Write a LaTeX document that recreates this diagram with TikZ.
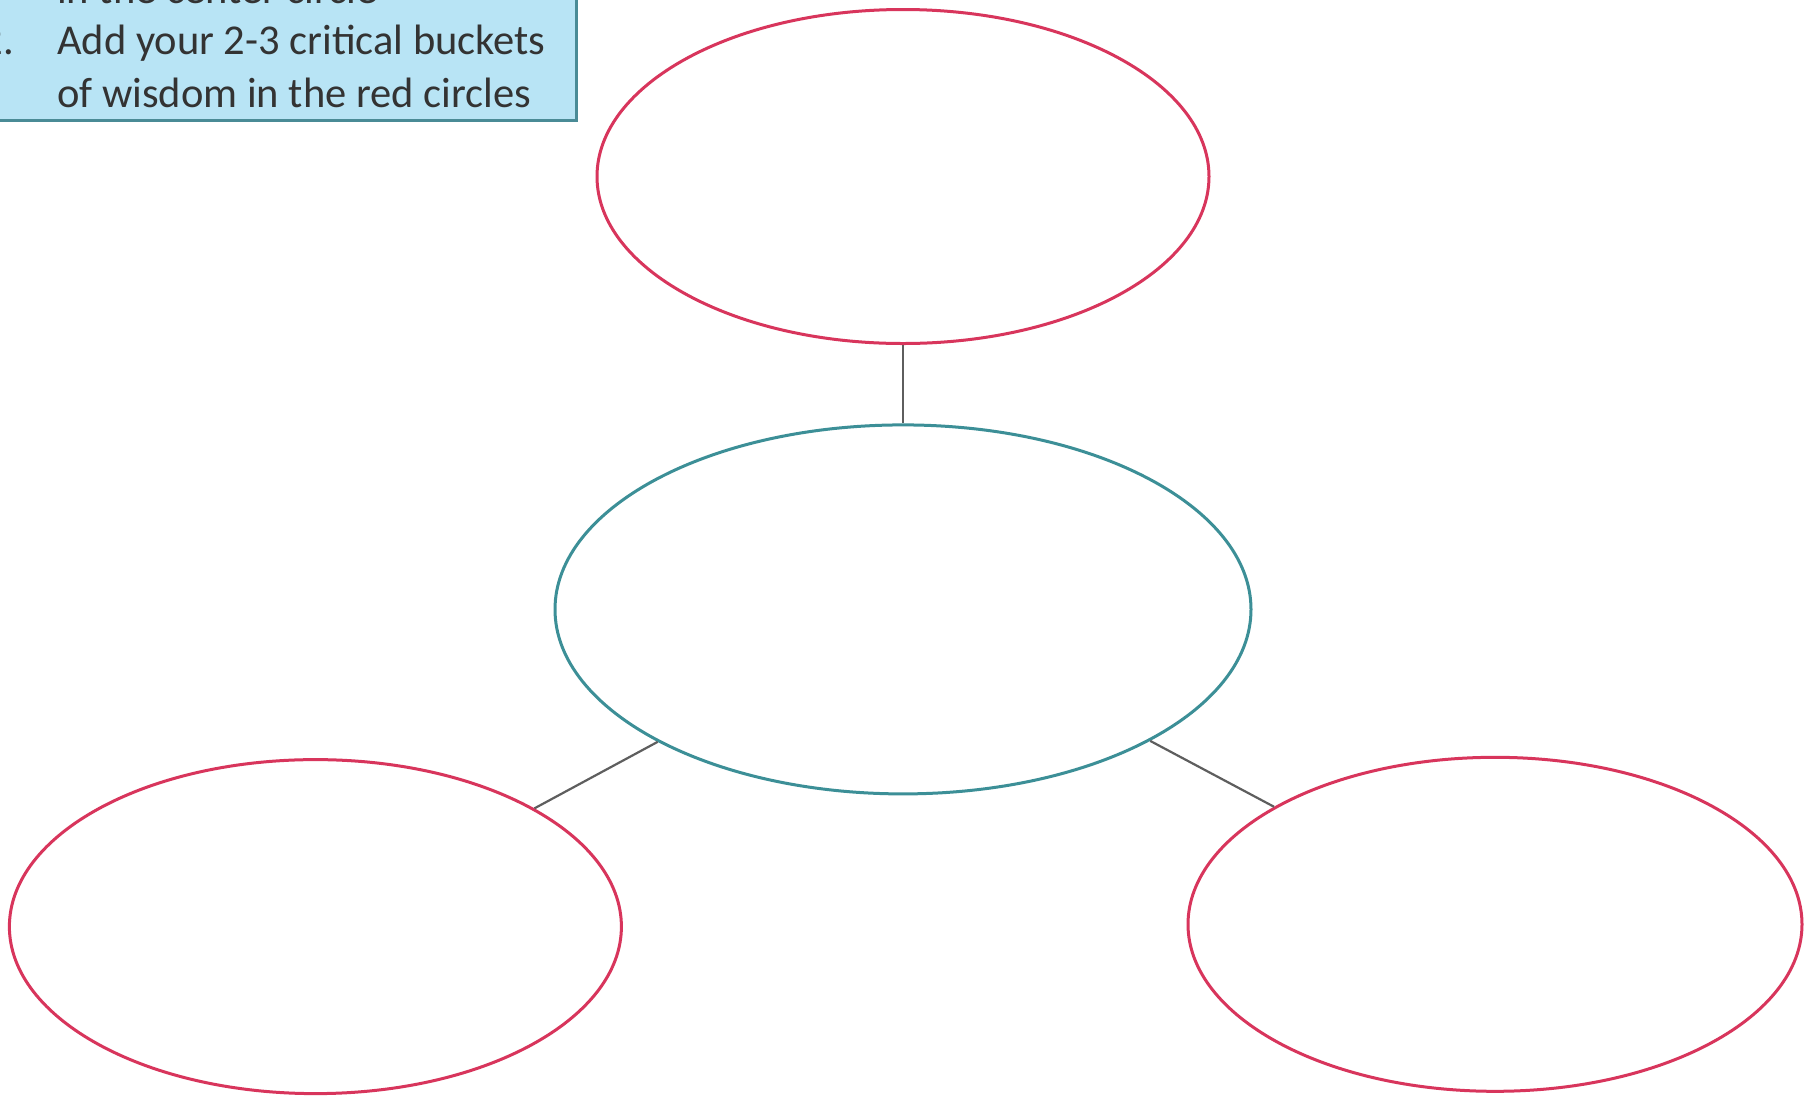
\documentclass[tikz,border=0pt]{standalone}
\usepackage{fontspec}
\setmainfont{Carlito}
\usetikzlibrary{shapes.geometric}
\definecolor{redring}{HTML}{D8355C}
\definecolor{tealring}{HTML}{3C8F97}
\definecolor{boxfill}{HTML}{B8E4F5}
\definecolor{boxline}{HTML}{4A8B96}
\definecolor{linkgray}{HTML}{5E5E5E}
\definecolor{txt}{HTML}{333333}
\tikzset{
  redell/.style={ellipse, draw=redring, line width=3pt, inner sep=0pt},
  tealell/.style={ellipse, draw=tealring, line width=3pt, inner sep=0pt},
  link/.style={draw=linkgray, line width=2.2pt},
  boxtext/.style={anchor=base west, inner sep=0pt, text=txt, font=\fontsize{42.5}{53}\selectfont},
}
\begin{document}
\begin{tikzpicture}[x=1pt,y=-1pt]
\useasboundingbox (0,0) rectangle (1815,1096);
\clip (0,0) rectangle (1815,1096);
\fill[white] (0,0) rectangle (1815,1096);
% instruction box
\draw[fill=boxfill, draw=boxline, line width=3pt] (-20,-20) rectangle (576,120);
\node[boxtext] (l1) at (57,3) {in the center circle};
\node[boxtext, anchor=base east] (n2) at (14,54) {2.};
\node[boxtext] (l2) at (57,54) {Add your 2-3 critical buckets};
\node[boxtext] (l3) at (57,107) {of wisdom in the red circles};
% ellipses
\node[redell, minimum width=612pt, minimum height=334pt] (top) at (903,176.5) {};
\node[tealell, minimum width=696pt, minimum height=369pt] (center) at (903,609.4) {};
\node[redell, minimum width=612pt, minimum height=334pt] (bl) at (315.4,926.6) {};
\node[redell, minimum width=614pt, minimum height=334pt] (br) at (1495,924.3) {};
% connectors
\draw[link] (top.south) -- (center.north);
\draw[link] (center) -- (bl);
\draw[link] (center) -- (br);
\end{tikzpicture}
\end{document}
